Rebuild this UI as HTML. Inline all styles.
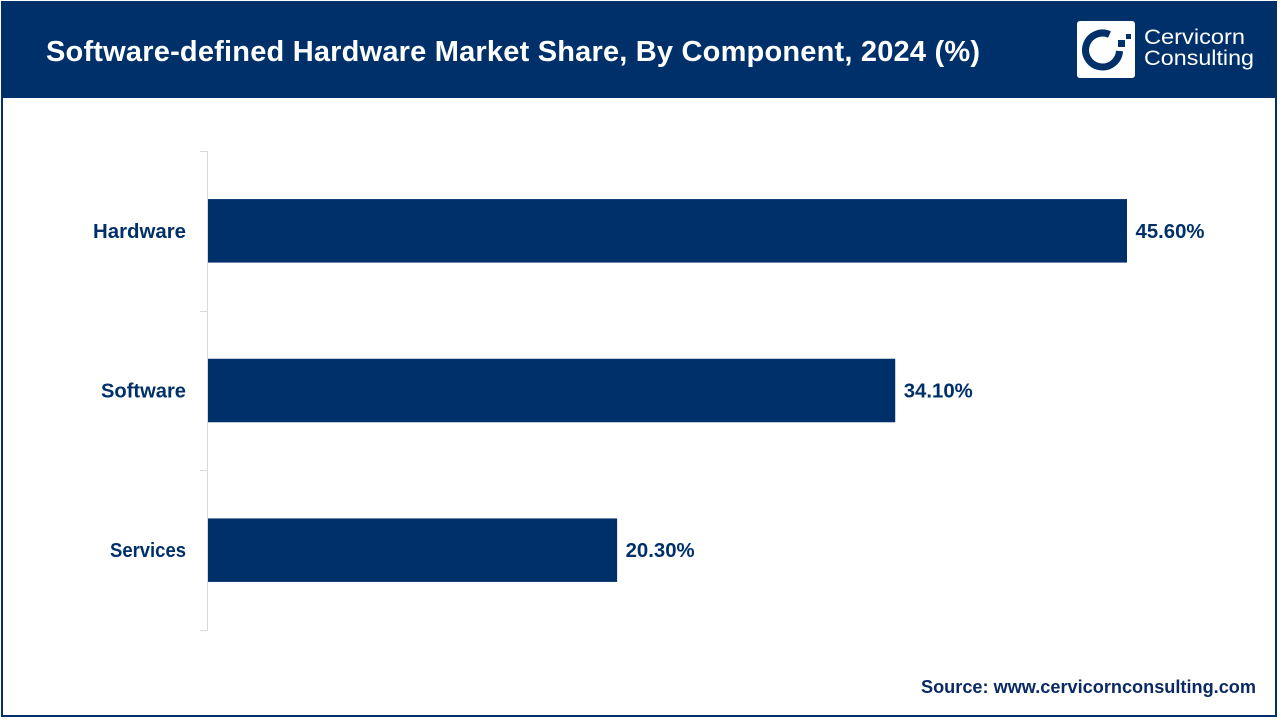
<!DOCTYPE html>
<html lang="en">
<head>
<meta charset="utf-8">
<title>Software-defined Hardware Market Share, By Component, 2024 (%)</title>
<style>
html,body{margin:0;padding:0;background:#fff;width:1280px;height:720px;overflow:hidden}
svg{display:block}
text{font-family:"Liberation Sans",sans-serif}
</style>
</head>
<body>
<svg id="chart" width="1280" height="720" viewBox="0 0 1280 720" xmlns="http://www.w3.org/2000/svg">
  <rect x="0" y="0" width="1280" height="720" fill="#ffffff"/>
  <rect x="2" y="2" width="1274" height="714" fill="none" stroke="#003069" stroke-width="2"/>
  <rect x="1" y="1" width="1276" height="97" fill="#003069"/>
  <text x="46" y="61" font-size="29" font-weight="700" fill="#ffffff" textLength="934" lengthAdjust="spacing">Software-defined Hardware Market Share, By Component, 2024 (%)</text>

  <g>
    <rect x="1077" y="21" width="58" height="57" rx="3" fill="#ffffff"/>
    <path d="M1109.5 34.5 A17 17 0 1 0 1119.5 51" fill="none" stroke="#003069" stroke-width="7"/>
    <rect x="1118" y="40" width="7" height="7" fill="#003069"/>
    <rect x="1126" y="34" width="5" height="5" fill="#003069"/>
    <text x="1144" y="44" font-size="21" fill="#ffffff" textLength="101" lengthAdjust="spacingAndGlyphs">Cervicorn</text>
    <text x="1144" y="65" font-size="21" fill="#ffffff" textLength="110" lengthAdjust="spacingAndGlyphs">Consulting</text>
  </g>

  <g id="axis"></g>
  <g id="bars"></g>

  <text x="921" y="693" font-size="18" font-weight="700" fill="#0b2a63" textLength="335" lengthAdjust="spacingAndGlyphs">Source: www.cervicornconsulting.com</text>
</svg>
<script>
const categories = ["Hardware", "Software", "Services"];
const shareValues = [45.6, 34.1, 20.3];
const valueLabels = ["45.60%", "34.10%", "20.30%"];
const labelWidths = [93, 85, 76];

const NS = "http://www.w3.org/2000/svg";
const plot = { left: 208, top: 151, bottom: 630 };
const pxPerUnit = 919 / 45.6;
const bandHeight = (plot.bottom - plot.top) / categories.length;
const barHeight = 63.5;
const navy = "#003069";

function xScale(v) { return plot.left + v * pxPerUnit; }
function bandTop(i) { return plot.top + i * bandHeight; }
function bandCenter(i) { return bandTop(i) + bandHeight / 2; }

function make(tag, attrs, parent, text) {
  const el = document.createElementNS(NS, tag);
  for (const k in attrs) el.setAttribute(k, attrs[k]);
  if (text !== undefined) el.textContent = text;
  parent.appendChild(el);
  return el;
}

const axis = document.getElementById("axis");
const barsG = document.getElementById("bars");

const axisLine = make("line", { x1: 207.5, x2: 207.5, y1: plot.top, y2: plot.bottom + 0.5, stroke: "#d9d9d9", "stroke-width": 1 }, axis);



for (let i = 0; i <= categories.length; i++) {
  const y = Math.round(bandTop(i)) + 0.5;
  const tick = make("line", { x1: 200, x2: 207.5, y1: y, y2: y, stroke: "#d9d9d9", "stroke-width": 1 }, axis);
  
  
}

categories.forEach(function (cat, i) {
  const cy = bandCenter(i);
  const bar = make("rect", {
    x: plot.left,
    y: cy - barHeight / 2,
    width: xScale(shareValues[i]) - plot.left,
    height: barHeight,
    fill: navy
  }, barsG);
  
  

  const catLabel = make("text", {
    x: 186,
    y: cy + 7,
    "text-anchor": "end",
    "font-size": 20,
    "font-weight": 700,
    fill: navy,
    textLength: labelWidths[i],
    lengthAdjust: "spacingAndGlyphs"
  }, axis, cat);
  
  

  const valLabel = make("text", {
    x: xScale(shareValues[i]) + 8.5,
    y: cy + 7,
    "font-size": 20,
    "font-weight": 700,
    fill: navy,
    textLength: 69,
    lengthAdjust: "spacingAndGlyphs"
  }, barsG, valueLabels[i]);
  
  
});
</script>
</body>
</html>
